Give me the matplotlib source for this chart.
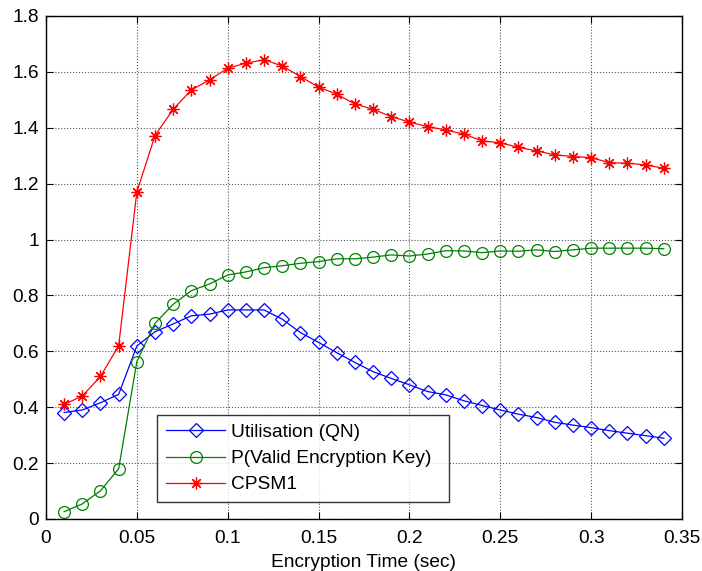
import matplotlib
matplotlib.use("Agg")
import matplotlib.pyplot as plt

plt.rcParams['font.family'] = ['Liberation Sans', 'DejaVu Sans']

# Encryption time samples (sec)
enc_time = [0.01, 0.02, 0.03, 0.04, 0.05, 0.06, 0.07, 0.08, 0.09, 0.10,
            0.11, 0.12, 0.13, 0.14, 0.15, 0.16, 0.17, 0.18, 0.19, 0.20,
            0.21, 0.22, 0.23, 0.24, 0.25, 0.26, 0.27, 0.28, 0.29, 0.30,
            0.31, 0.32, 0.33, 0.34]

utilisation = [0.381, 0.390, 0.416, 0.446, 0.619, 0.670, 0.698, 0.727, 0.733, 0.748,
               0.748, 0.748, 0.715, 0.667, 0.632, 0.595, 0.560, 0.527, 0.503, 0.480,
               0.456, 0.444, 0.423, 0.406, 0.390, 0.375, 0.363, 0.346, 0.336, 0.327,
               0.316, 0.307, 0.298, 0.289]

p_valid_key = [0.026, 0.054, 0.101, 0.180, 0.563, 0.700, 0.768, 0.817, 0.841, 0.873,
               0.884, 0.899, 0.906, 0.915, 0.921, 0.931, 0.931, 0.937, 0.945, 0.941,
               0.948, 0.960, 0.959, 0.953, 0.959, 0.958, 0.963, 0.957, 0.963, 0.969,
               0.969, 0.969, 0.969, 0.967]

cpsm1 = [0.410, 0.440, 0.510, 0.620, 1.170, 1.372, 1.466, 1.535, 1.571, 1.613,
         1.631, 1.643, 1.621, 1.583, 1.545, 1.520, 1.485, 1.466, 1.440, 1.420,
         1.404, 1.392, 1.377, 1.353, 1.346, 1.330, 1.317, 1.303, 1.297, 1.293,
         1.275, 1.273, 1.267, 1.255]

x_ticks = [0, 0.05, 0.1, 0.15, 0.2, 0.25, 0.3, 0.35]
x_tick_labels = ['0', '0.05', '0.1', '0.15', '0.2', '0.25', '0.3', '0.35']
y_ticks = [0, 0.2, 0.4, 0.6, 0.8, 1.0, 1.2, 1.4, 1.6, 1.8]
y_tick_labels = ['0', '0.2', '0.4', '0.6', '0.8', '1', '1.2', '1.4', '1.6', '1.8']

FS = 13.8

fig = plt.figure(figsize=(7.02, 5.71), dpi=100)
ax = fig.add_axes([0.0655, 0.0911, 0.906, 0.881])

ax.plot(enc_time, utilisation, color='#0000ff', lw=0.9, marker='D', ms=7.5,
        mfc='none', mec='#0000ff', mew=0.9, label='Utilisation (QN)')
ax.plot(enc_time, p_valid_key, color='#008000', lw=0.9, marker='o', ms=8.5,
        mfc='none', mec='#008000', mew=0.9, label='P(Valid Encryption Key)')
ax.plot(enc_time, cpsm1, color='#ff0000', lw=0.9, marker=(8, 2, 0), ms=8.5,
        mec='#ff0000', mew=0.9, label='CPSM1')

ax.set_xlim(0, 0.35)
ax.set_ylim(0, 1.8)
ax.set_xticks(x_ticks)
ax.set_xticklabels(x_tick_labels)
ax.set_yticks(y_ticks)
ax.set_yticklabels(y_tick_labels)

ax.grid(True, linestyle=':', color='#555555', linewidth=0.8)
ax.tick_params(direction='in', top=True, right=True, length=5, width=0.8,
               labelsize=FS, colors='black')
ax.tick_params(axis='x', pad=8)
ax.tick_params(axis='y', pad=5)
for sp in ax.spines.values():
    sp.set_linewidth(1.0)
    sp.set_color('black')

ax.set_xlabel('Encryption Time (sec)', fontsize=FS, labelpad=5)

leg = ax.legend(loc='lower left', bbox_to_anchor=(0.175, 0.034, 0.458, 0.175),
                mode='expand', fontsize=FS, frameon=True, fancybox=False,
                borderpad=0.45, handlelength=3.1, handletextpad=0.3,
                labelspacing=0.45, borderaxespad=0)
leg.get_frame().set_edgecolor('black')
leg.get_frame().set_linewidth(1.0)

fig.savefig('out.png', dpi=100)
